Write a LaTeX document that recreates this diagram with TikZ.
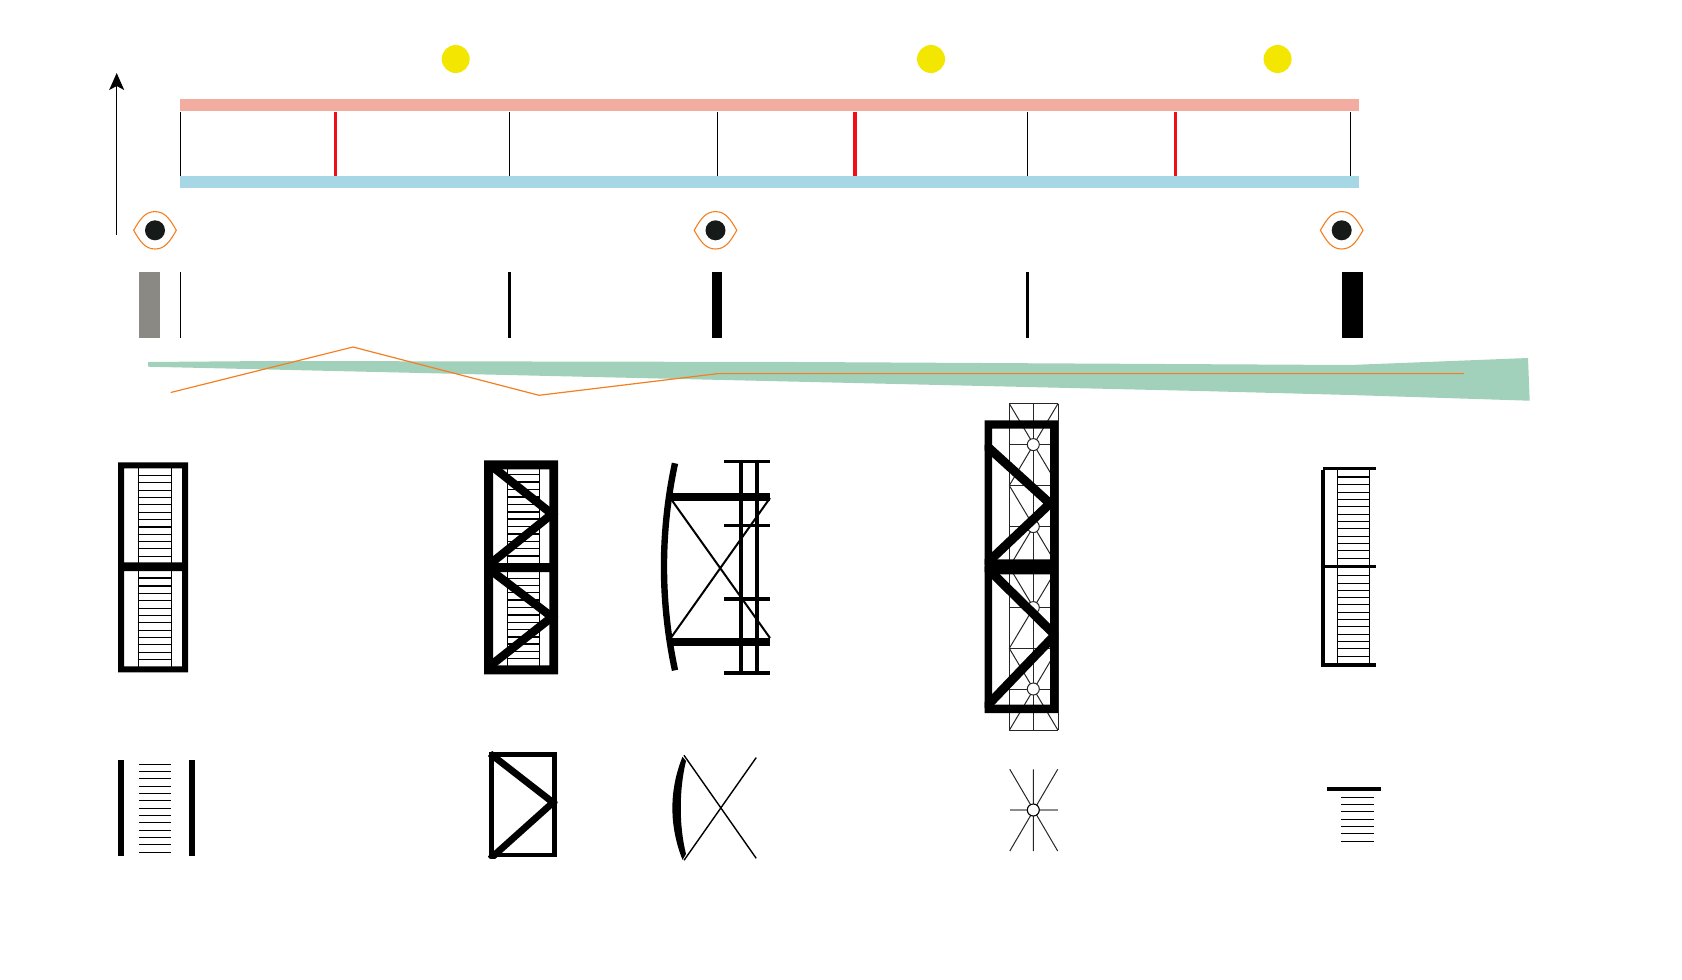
\documentclass[tikz,border=0pt]{standalone}
\usetikzlibrary{arrows.meta}
\definecolor{pinkbar}{HTML}{F2ADA0}
\definecolor{bluebar}{HTML}{A5D7E4}
\definecolor{greenband}{HTML}{A2D1BB}
\definecolor{sunyellow}{HTML}{F3E600}
\definecolor{redpost}{HTML}{F00F16}
\definecolor{greyblock}{HTML}{8B8983}
\definecolor{orangeline}{HTML}{F47F20}
\definecolor{pupil}{HTML}{161A18}
\tikzset{
  px/.style={x=0.5pt,y=-0.5pt},
  thin line/.style={line width=0.5pt,black},
  hatch line/.style={line width=0.55pt,black},
  grid line/.style={line width=0.5pt,black!85},
  heavy/.style={line width=3pt,black,line cap=butt},
  noedge/.style={draw=none}
}
\begin{document}
\begin{tikzpicture}[px]
\useasboundingbox (0,0) rectangle (1682,980);
% suns
\foreach \x in {455.7,931,1277.6} \fill[sunyellow] (\x,59) circle[radius=14];
% bars and posts
\fill[pinkbar] (180,99) rectangle (1359,111);
\fill[bluebar] (180,176) rectangle (1359,188);
\foreach \x in {180.7,509.4,717.6,1027.6,1350.5} \draw[thin line] (\x,112) -- (\x,176);
\foreach \x in {335.5,855,1175.7} \draw[line width=1.6pt,redpost] (\x,112) -- (\x,176);
% arrow
\coordinate (arrowfoot) at (116.7,235);
\coordinate (arrowtip) at (116.7,73);
\draw[line width=0.6pt,-{Stealth[length=8.5pt,width=7.5pt,inset=2pt]}] (arrowfoot) -- (arrowtip);
% eyes
\foreach \x in {155,715.5,1341.7}{
  \begin{scope}[shift={(\x,230.3)}]
    \draw[orangeline,line width=0.55pt] (-21.3,0) .. controls (-15,-11) and (-10,-18.7) .. (0,-18.7) .. controls (10,-18.7) and (15,-11) .. (21.3,0) .. controls (15,11) and (10,18.7) .. (0,18.7) .. controls (-10,18.7) and (-15,11) .. (-21.3,0) -- cycle;
    \fill[pupil] (0,0) circle[radius=10];
  \end{scope}
}
% plan bars
\fill[greyblock] (139,272) rectangle (160,338);
\fill (180,272) rectangle (181.3,338);
\fill (508,272) rectangle (511,338);
\fill (712,272) rectangle (722,338);
\fill (1026,272) rectangle (1029,338);
\fill (1342,272) rectangle (1363,338);
% green band
\fill[greenband] (148,362) -- (270,361) -- (800,362) -- (1350,365) -- (1528,358) -- (1529.7,400.7) -- (1350,395) -- (1200,391) -- (148,366.7) -- cycle;
\draw[orangeline,line width=0.6pt] (170.7,392.5) -- (353,347) -- (539,395.3) -- (718,373.6) -- (1464,373.6);
% frame 1
\foreach \y in {475.3,482.3,490.3,497.3,504.3,512.3,519.3,527,534.3,541.3,548.3,556.3,578,586,593.3,600.3,608.3,615.3,622.3,630.3,637.3,644.3,652.3,659.3}
  \draw[hatch line] (138.3,\y) -- (171.3,\y);
\draw[hatch line] (138.3,465) -- (138.3,668) (171.3,465) -- (171.3,668);
\fill[even odd rule] (118,462.3) rectangle (188,672.3) (124,468.3) rectangle (182,562.3) (124,571) rectangle (182,666.3);
% frame 2
\foreach \y in {474.3,482,489.3,497,504.3,512,519,526.7,534,541.3,548.7,556,578.3,585.7,592.7,600,607.3,615,622.3,629.7,637,644,651.3,658.7}
  \draw[hatch line] (507.3,\y) -- (539.3,\y);
\draw[hatch line] (507.3,465) -- (507.3,668) (539.3,465) -- (539.3,668);
\fill[even odd rule] (484,460.3) rectangle (558,674.3) (493,469.3) rectangle (549.3,563) (493,572) rectangle (549.3,665.3);
\begin{scope}
  \clip (484,460.3) rectangle (558,674.3);
  \draw[line width=4.2pt] (493,467) -- (552,514) -- (490,564);
  \draw[line width=4.2pt] (493,572) -- (552,617) -- (490,666);
\end{scope}
% frame 3
\draw[line width=3.2pt] (675,463.3) .. controls (660.3,532) and (660.3,601) .. (675,670.3);
\foreach \y in {497,642} \draw[heavy,line width=4pt] (668,\y) -- (770,\y);
\foreach \y in {461.3,525.6,599,673} \draw[line width=1.65pt] (724,\y) -- (770,\y);
\foreach \x in {741,756.7} \draw[line width=2pt] (\x,461.3) -- (\x,673);
\draw[line width=1pt] (671.7,500) -- (770,638) (671.7,636.7) -- (770,498);
% frame 4: grid
\foreach \t/\c/\b in {403.6/444.6/485.5,485.5/526.6/567,567/607.6/648.3,648.3/689/730.3}{
  \draw[grid line] (1009.3,\t) -- (1058,\b) (1058,\t) -- (1009.3,\b);
  \draw[grid line] (1009.3,\c) -- (1058,\c);
  \draw[grid line] (1009.3,\t) -- (1058,\t) (1009.3,\b) -- (1058,\b);
  \draw[grid line] (1033.3,\t) -- (1033.3,\b);
  \draw[grid line,fill=white] (1033.3,\c) circle[radius=6];
}
\draw[grid line] (1009.3,403.6) -- (1009.3,730.3) (1058,403.6) -- (1058,730.3);
% frame 4: truss
\fill[even odd rule] (984.7,420.3) rectangle (1058,713) (992,428.6) rectangle (1050,559.3) (992,574.3) rectangle (1050,704.6);
\begin{scope}
  \clip (984.7,420.3) rectangle (1058,713);
  \draw[line width=4.5pt] (985,444.5) -- (1050,503.5) -- (985,565);
  \draw[line width=4.5pt] (985,566) -- (1055,635) -- (985,708);
\end{scope}
% frame 5
\foreach \y in {477,484.3,492.3,499.3,506.3,514.3,521.3,528.3,536.3,543.3,550.3,558.3,575.3,583.3,590.3,597.3,604.3,612.3,619.3,626.3,634.3,641.3,648.3,656.3}
  \draw[hatch line] (1337.3,\y) -- (1369.3,\y);
\draw[hatch line] (1337.3,468) -- (1337.3,665) (1369.3,468) -- (1369.3,665);
\draw[line width=2pt] (1323,470) -- (1323,667);
\draw[line width=1.75pt] (1323,468.6) -- (1376,468.6);
\draw[line width=1.5pt] (1323,566.6) -- (1376,566.6);
\draw[line width=2pt] (1323,665.3) -- (1376,665.3);
% bottom row 1
\fill (118,760.3) rectangle (124,856.3);
\fill (189,760.3) rectangle (195,856.3);
\foreach \y in {764.6,771.6,778.6,786.6,793.6,800.6,808.6,815.6,822.6,830.6,837.6,844.6,852.6}
  \draw[hatch line] (139,\y) -- (171,\y);
% bottom row 2
\draw[line width=2.4pt] (491.5,754.5) rectangle (554.5,855);
\begin{scope}
  \clip (488,751) rectangle (557.5,858);
  \draw[line width=3.4pt] (490,753.5) -- (553,802.5) -- (490,859);
\end{scope}
% bottom row 3
\fill (682.5,756.8) .. controls (669,790) and (669,826) .. (682.5,859.8) -- (686,854) .. controls (679,826) and (679,790) .. (686,761) -- cycle;
\draw[line width=0.7pt] (684,755.3) -- (756.2,858.3) (684,860.3) -- (756.2,757.6);
% bottom row 4
\draw[grid line] (1009.8,769.3) -- (1057.7,851) (1057.7,769.3) -- (1009.8,851) (1033.3,769.3) -- (1033.3,851);
\draw[line width=1pt,black!45] (1009.8,810) -- (1057.7,810);
\draw[line width=0.55pt,fill=white] (1033.3,810) circle[radius=6];
% bottom row 5
\draw[line width=2pt] (1327,789.3) -- (1381,789.3);
\foreach \y in {797.6,804.6,811.6,819.6,826.6,833.6,841.6}
  \draw[hatch line] (1341.4,\y) -- (1374.4,\y);
\end{tikzpicture}
\end{document}
